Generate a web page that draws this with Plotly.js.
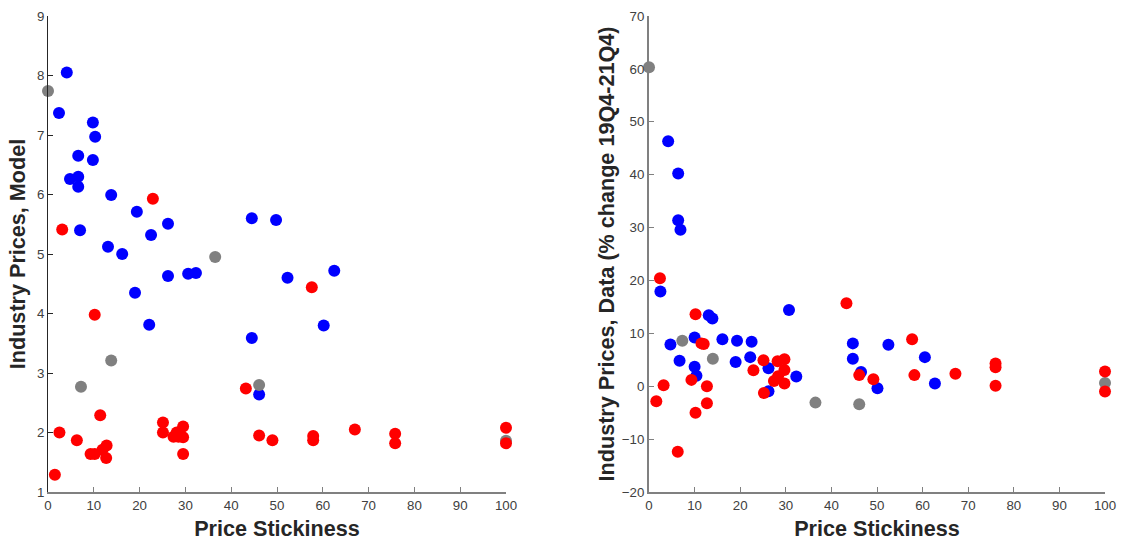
<!DOCTYPE html>
<html>
<head>
<meta charset="utf-8">
<script src="https://cdn.plot.ly/plotly-3.0.1.min.js"></script>
<style>html,body{margin:0;padding:0;background:#fff;}#chart{width:1124px;height:546px;}</style>
</head>
<body>
<div id="chart"></div>
<script>
// ---- Left panel: Industry Prices, Model ----
const modelBlueX = [4.1, 2.4, 9.8, 10.3, 6.6, 9.8, 4.8, 6.6, 6.6, 13.8, 19.4, 26.2, 22.5, 7.0, 13.1, 16.2, 26.2, 30.6, 32.3, 44.5, 49.8, 52.3, 62.5, 60.2, 19.0, 22.1, 44.5, 46.1];
const modelBlueY = [8.05, 7.37, 7.21, 6.97, 6.65, 6.58, 6.26, 6.30, 6.13, 5.99, 5.71, 5.51, 5.32, 5.40, 5.12, 5.00, 4.63, 4.67, 4.68, 5.60, 5.57, 4.60, 4.72, 3.80, 4.35, 3.81, 3.59, 2.64];
const modelGrayX = [0, 36.5, 13.8, 7.2, 46.1, 100];
const modelGrayY = [7.74, 4.95, 3.21, 2.77, 2.80, 1.86];
const modelRedX = [3.1, 22.9, 10.2, 57.6, 43.2, 11.4, 2.5, 6.3, 9.3, 10.2, 11.9, 12.8, 12.7, 1.5, 25.1, 25.1, 28.1, 27.4, 28.5, 29.5, 29.5, 29.5, 46.1, 49.0, 57.9, 57.9, 67.0, 75.8, 75.8, 100, 100];
const modelRedY = [5.41, 5.93, 3.98, 4.44, 2.74, 2.29, 2.00, 1.87, 1.64, 1.64, 1.71, 1.78, 1.57, 1.29, 2.17, 2.00, 2.00, 1.93, 1.93, 2.10, 1.92, 1.64, 1.95, 1.87, 1.94, 1.87, 2.05, 1.98, 1.82, 2.08, 1.82];

// ---- Right panel: Industry Prices, Data (% change 19Q4-21Q4) ----
const dataBlueX = [2.5, 4.7, 4.2, 6.4, 6.4, 6.9, 6.7, 10.0, 10.0, 10.4, 13.1, 13.9, 16.1, 19.3, 19.0, 22.5, 22.2, 26.2, 26.2, 30.7, 32.3, 44.7, 44.7, 46.5, 52.5, 60.5, 50.1, 62.7];
const dataBlueY = [17.9, 7.9, 46.3, 40.2, 31.4, 29.6, 4.8, 9.2, 3.7, 2.0, 13.4, 12.8, 8.9, 8.6, 4.6, 8.4, 5.5, -0.95, 3.4, 14.4, 1.85, 8.1, 5.2, 2.7, 7.85, 5.5, -0.4, 0.5];
const dataGrayX = [0, 7.3, 14.0, 36.5, 46.1, 100];
const dataGrayY = [60.3, 8.6, 5.2, -3.1, -3.4, 0.6];
const dataRedX = [2.4, 1.6, 3.2, 6.3, 10.2, 9.3, 10.2, 11.5, 12.0, 12.7, 12.7, 22.9, 25.1, 25.2, 28.2, 28.3, 27.4, 29.7, 29.7, 29.7, 43.3, 46.1, 49.2, 57.7, 58.2, 67.2, 76.0, 76.0, 76.0, 100, 100];
const dataRedY = [20.4, -2.85, 0.2, -12.4, 13.6, 1.2, -5.0, 8.1, 8.0, 0.0, -3.2, 3.0, 4.9, -1.3, 4.7, 1.9, 1.0, 5.1, 3.05, 0.5, 15.7, 2.1, 1.3, 8.9, 2.1, 2.35, 4.3, 3.6, 0.1, 2.8, -1.0];

const xTicks = [0, 10, 20, 30, 40, 50, 60, 70, 80, 90, 100];

function pts(x, y, color, xa, ya) {
  return {type: 'scatter', mode: 'markers', x: x, y: y, xaxis: xa, yaxis: ya, cliponaxis: false,
    marker: {color: color, size: 12, line: {width: 0}}, showlegend: false, hoverinfo: 'x+y'};
}

const traces = [
  pts(modelBlueX, modelBlueY, '#0000ff', 'x', 'y'),
  pts(modelGrayX, modelGrayY, '#808080', 'x', 'y'),
  pts(modelRedX, modelRedY, '#ff0000', 'x', 'y'),
  pts(dataBlueX, dataBlueY, '#0000ff', 'x2', 'y2'),
  pts(dataGrayX, dataGrayY, '#808080', 'x2', 'y2'),
  pts(dataRedX, dataRedY, '#ff0000', 'x2', 'y2')
];

const tickFont = {family: 'Liberation Sans, Arial, sans-serif', size: 13.3, color: '#404040'};
const titleFont = {family: 'Liberation Sans, Arial, sans-serif', size: 21.6, color: '#262626', weight: 'bold'};

function xAxis(domain, anchor) {
  return {domain: domain, anchor: anchor, range: [0, 100], tickvals: xTicks, ticks: 'inside', ticklen: 5,
    tickcolor: '#808080', tickwidth: 1, showline: true, linecolor: '#808080', linewidth: 2,
    showgrid: false, zeroline: false, tickfont: tickFont, fixedrange: true,
    title: {text: '<b>Price Stickiness</b>', font: titleFont, standoff: 9}};
}

const layout = {
  width: 1124, height: 546,
  margin: {l: 48, r: 19, t: 16, b: 54},
  paper_bgcolor: '#ffffff', plot_bgcolor: '#ffffff',
  xaxis: xAxis([0, 0.4333], 'y'),
  xaxis2: xAxis([0.5686, 1.0], 'y2'),
  yaxis: {domain: [0, 1], anchor: 'x', range: [1, 9], tickvals: [1,2,3,4,5,6,7,8,9], ticks: 'inside', ticklen: 5,
    tickcolor: '#262626', tickwidth: 1, showline: true, linecolor: '#262626', linewidth: 1,
    showgrid: false, zeroline: false, tickfont: tickFont, fixedrange: true,
    title: {text: '<b>Industry Prices, Model</b>', font: titleFont, standoff: 5}},
  yaxis2: {domain: [0, 1], anchor: 'x2', range: [-20, 70], tickvals: [-20,-10,0,10,20,30,40,50,60,70], ticks: 'inside', ticklen: 5,
    tickcolor: '#808080', tickwidth: 1, showline: true, linecolor: '#808080', linewidth: 2,
    showgrid: false, zeroline: false, tickfont: tickFont, fixedrange: true,
    title: {text: '<b>Industry Prices, Data (% change 19Q4-21Q4)</b>', font: titleFont, standoff: 1}}
};

Plotly.newPlot('chart', traces, layout, {staticPlot: true, displayModeBar: false});
</script>
</body>
</html>
